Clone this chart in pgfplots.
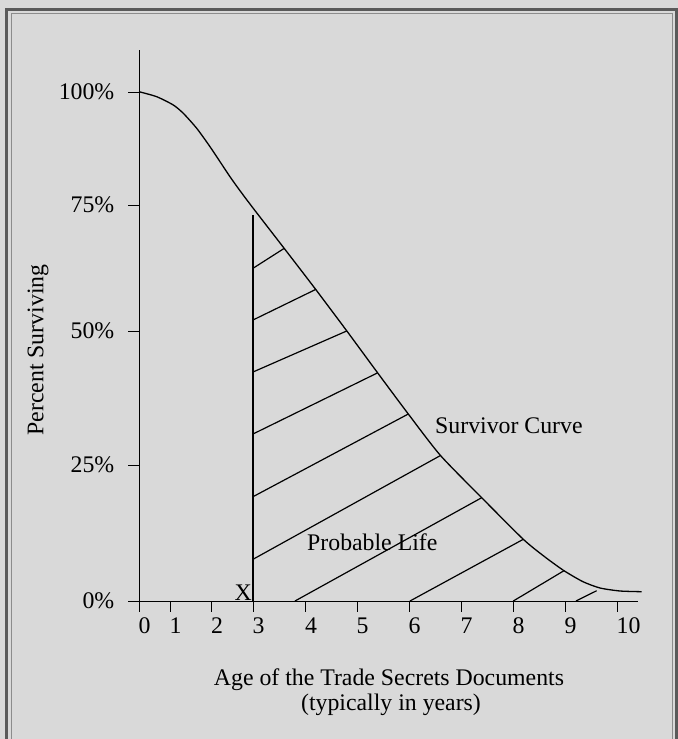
\documentclass[border=0pt]{standalone}
\usepackage{fontspec}
\setmainfont{Liberation Serif}
\usepackage{pgfplots}
\pgfplotsset{compat=1.18}
\definecolor{bg}{HTML}{D9D9D9}
\definecolor{frameouter}{HTML}{5A5A5A}
\definecolor{frameinner}{HTML}{8C8C8C}
\begin{document}
\begin{tikzpicture}[font=\fontsize{23.8bp}{28bp}\selectfont]
\path[use as bounding box] (0,0) rectangle (678bp,-739bp);
\fill[bg] (0,0) rectangle (678bp,-739bp);
\draw[frameouter,line width=3bp] (6.5bp,-739bp) -- (6.5bp,-9.5bp) -- (676.5bp,-9.5bp) -- (676.5bp,-739bp);
\draw[frameinner,line width=1bp] (11bp,-739bp) -- (11bp,-13.5bp) -- (672bp,-13.5bp) -- (672bp,-739bp);
\begin{axis}[
  at={(128bp,-50bp)}, anchor=north west,
  x=1bp, y=1bp,
  xmin=-11, xmax=499, ymin=-10, ymax=551,
  enlargelimits=false,
  axis lines=middle,
  axis line style={-, line width=1bp, black},
  clip=false,
  xtick={0,31,72.5,114,166.5,218,270,322,374,426,478},
  xticklabels={0,1,2,3,4,5,6,7,8,9,10},
  ytick={0,136,270,396,509},
  yticklabels={0\%,25\%,50\%,75\%,100\%},
  tick align=outside,
  major tick length=10.5bp,
  tick style={black, line width=1bp},
  hide obscured x ticks=false,
  hide obscured y ticks=false,
  xticklabel style={anchor=north west, inner sep=0pt, xshift=-0.5bp, yshift=-6bp},
  yticklabel style={anchor=east, inner sep=0pt, xshift=-14bp},
  /pgf/number format/assume math mode=true,
]
% survivor curve
\addplot[black, line width=1.3bp, smooth, tension=0.4] coordinates {
(0,509.3) (17.7,504.3) (34.3,496) (44.3,487.7) (57.7,472.7) (71,454.3)
(91,424.3) (101,410.3) (114,393) (145.3,352.5) (177,311.2) (207.7,270.2)
(238,229) (269.3,187) (301.5,145.5) (342.7,103.3) (384.3,61.7) (406,44)
(425,30.3) (444,19.3) (461,13) (481,10) (502.7,9.3)
};
% vertical line at X
\addplot[black, line width=1.2bp] coordinates {(114,0) (114,386)};
% hatch lines
\addplot[black, line width=1.2bp] coordinates {(114,332.7) (145.3,352.7)};
\addplot[black, line width=1.2bp] coordinates {(114,281) (177,311.7)};
\addplot[black, line width=1.2bp] coordinates {(114,229) (207.7,270)};
\addplot[black, line width=1.2bp] coordinates {(114,167) (238.3,228)};
\addplot[black, line width=1.2bp] coordinates {(114,104.3) (269.3,187)};
\addplot[black, line width=1.2bp] coordinates {(114,41.7) (301.5,145.5)};
\addplot[black, line width=1.2bp] coordinates {(156,0) (342.7,103.3)};
\addplot[black, line width=1.2bp] coordinates {(271,0) (384.3,61.7)};
\addplot[black, line width=1.2bp] coordinates {(374.3,0) (425,30.3)};
\addplot[black, line width=1.2bp] coordinates {(437,0) (457.7,10.3)};
% texts
\node[anchor=base west, inner sep=0pt] at (axis cs:296,168) {Survivor Curve};
\node[anchor=base west, inner sep=0pt] at (axis cs:168,51) {Probable Life};
\node[anchor=base west, inner sep=0pt] at (axis cs:95.5,1) {X};
\node[rotate=90, inner sep=0pt] at (axis cs:-101,251) {Percent Surviving};
\node[anchor=base, inner sep=0pt] at (axis cs:250,-84) {Age of the Trade Secrets Documents};
\node[anchor=base, inner sep=0pt] at (axis cs:252,-109) {(typically in years)};
\end{axis}
\end{tikzpicture}
\end{document}
